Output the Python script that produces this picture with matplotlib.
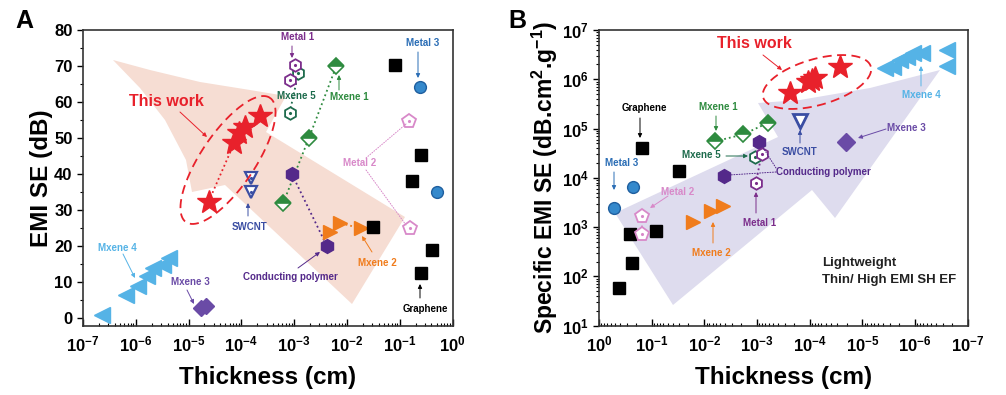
import numpy as np
import matplotlib
matplotlib.use("Agg")
import matplotlib.pyplot as plt
from matplotlib.patches import Polygon
from matplotlib.ticker import LogLocator, MultipleLocator, FixedLocator, NullFormatter

plt.rcParams['font.family'] = ['Liberation Sans', 'DejaVu Sans']
plt.rcParams['font.weight'] = 'bold'
plt.rcParams['axes.labelweight'] = 'bold'
plt.rcParams['mathtext.fontset'] = 'custom'
plt.rcParams['mathtext.rm'] = 'Liberation Sans:bold'
plt.rcParams['mathtext.bf'] = 'Liberation Sans:bold'
plt.rcParams['mathtext.it'] = 'Liberation Sans:bold:italic'
plt.rcParams['mathtext.default'] = 'bf'

# ---------------- data, panel A (thickness cm, EMI SE dB) ----------------
star_a_x = [2.4e-5, 7.3e-5, 9e-5, 1.15e-4, 2.3e-4]
star_a_y = [32.4, 48.6, 51.5, 53.2, 56.2]
mx4_a_x = [2.3e-7, 6.5e-7, 1.1e-6, 1.6e-6, 2.1e-6, 3.3e-6, 4.2e-6]
mx4_a_y = [1.1, 6.5, 9.1, 11.8, 13.9, 14.8, 16.9]
mx3_a_x = [1.7e-5, 2.1e-5]
mx3_a_y = [2.8, 3.4]
swcnt_a_x = [1.5e-4, 1.5e-4]
swcnt_a_y = [38.9, 35.2]
mx1_a_x = [6.2e-4, 1.9e-3, 6.3e-3]
mx1_a_y = [32, 50, 70]
mx5_a_x = [8.2e-4, 1.2e-3]
mx5_a_y = [57, 68]
metal1_a_x = [8.2e-4, 1.05e-3]
metal1_a_y = [66.2, 70.4]
cp_a_x = [9.1e-4, 4.2e-3]
cp_a_y = [40, 20]
mx2_a_x = [4.7e-3, 7.5e-3, 1.85e-2]
mx2_a_y = [24, 26.4, 25]
gr_a_x = [3.1e-2, 8.3e-2, 0.168, 0.25, 0.25, 0.41]
gr_a_y = [25.4, 70.2, 38.1, 45.4, 12.7, 19]
metal3_a_x = [0.238, 0.51]
metal3_a_y = [64.2, 35]
metal2_a_x = [0.153, 0.155]
metal2_a_y = [54.8, 25]

# ---------------- data, panel B (thickness cm, specific EMI SE) ----------------
star_b_x = [2.4e-4, 1.07e-4, 9.2e-5, 8e-5, 2.7e-5]
star_b_y = [5.3e5, 8.9e5, 9.6e5, 1.04e6, 1.8e6]
mx4_b_x = [3.7e-6, 2.6e-6, 1.94e-6, 1.45e-6, 1.09e-6, 7.5e-7, 2.5e-7, 2.5e-7]
mx4_b_y = [1.66e6, 1.79e6, 2.45e6, 2.86e6, 3.35e6, 3.45e6, 3.9e6, 1.86e6]
swcnt_b_x = [1.5e-4]
swcnt_b_y = [1.4e5]
mx3_b_x = [2.06e-5]
mx3_b_y = [5.4e4]
mx1_b_x = [6.3e-3, 1.83e-3, 6.1e-4]
mx1_b_y = [5.5e4, 7.6e4, 1.32e5]
mx5_b_x = [1.1e-3]
mx5_b_y = [2.6e4]
metal1_b_x = [8.2e-4, 1.05e-3]
metal1_b_y = [3e4, 7.9e3]
cp_b_x = [9.1e-4, 4.2e-3]
cp_b_y = [5.4e4, 1.1e4]
mx2_b_x = [1.62e-2, 7.5e-3, 4.5e-3]
mx2_b_y = [1.29e3, 2.1e3, 2.7e3]
gr_b_x = [0.155, 0.030, 0.258, 0.233, 0.417, 0.083]
gr_b_y = [3.96e4, 1.4e4, 715, 190, 59, 845]
metal3_b_x = [0.23, 0.51]
metal3_b_y = [6.4e3, 2.4e3]
metal2_b_x = [0.155, 0.155]
metal2_b_y = [1.68e3, 715]

xticks = [1e-7, 1e-6, 1e-5, 1e-4, 1e-3, 1e-2, 1e-1, 1e0]
xtick_labels = [r'$10^{-7}$', r'$10^{-6}$', r'$10^{-5}$', r'$10^{-4}$',
                r'$10^{-3}$', r'$10^{-2}$', r'$10^{-1}$', r'$10^{0}$']
yticks_b = [1e1, 1e2, 1e3, 1e4, 1e5, 1e6, 1e7]
ytick_labels_b = [r'$10^{1}$', r'$10^{2}$', r'$10^{3}$', r'$10^{4}$',
                  r'$10^{5}$', r'$10^{6}$', r'$10^{7}$']

# colours
RED = '#e8212b'
LBLUE = '#55b3e6'
PURPLE = '#6a4ba6'
NAVY = '#3b4ea3'
GREEN = '#2e8b3f'
DGREEN = '#1d6b4c'
MAGENTA = '#7b2d8b'
DPURPLE = '#54298a'
ORANGE = '#f07c1c'
BLUE = '#3589cc'
PINK = '#d889c9'

W, H = 1006, 395
fig = plt.figure(figsize=(W / 100, H / 100), dpi=100)
axA = fig.add_axes([83 / W, (H - 325.7) / H, 369.5 / W, 295.7 / H])
axB = fig.add_axes([599 / W, (H - 325.7) / H, 368.7 / W, 295.7 / H])


def pix(ax):
    # reference pixel position -> axes fraction
    bb = ax.get_position()
    def f(px, py):
        return ((px - bb.x0 * W) / (bb.width * W),
                ((H - py) - bb.y0 * H) / (bb.height * H))
    return f


def shade(ax, pts, color):
    f = pix(ax)
    poly = Polygon([f(*p) for p in pts], closed=True, transform=ax.transAxes,
                   facecolor=color, edgecolor='none', zorder=0)
    ax.add_patch(poly)


def ring(ax, cx, cy, w, h, ang):
    f = pix(ax)
    t = np.linspace(0, 2 * np.pi, 200)
    ex, ey = w / 2 * np.cos(t), h / 2 * np.sin(t)
    a = np.radians(ang)
    px = cx + ex * np.cos(a) - ey * np.sin(a)
    py = cy - (ex * np.sin(a) + ey * np.cos(a))
    xy = np.array([f(u, v) for u, v in zip(px, py)])
    ax.plot(xy[:, 0], xy[:, 1], transform=ax.transAxes, color=RED, lw=1.3,
            dashes=(5, 3), zorder=6)


def note(ax, text, tp, color, fs=7, a0=None, a1=None, style='-|>', ls='-'):
    f = pix(ax)
    if text:
        ax.text(*f(*tp), text, transform=ax.transAxes, color=color, fontsize=fs,
                ha='center', va='center', fontweight='bold', zorder=8)
    if a0 is not None:
        ax.annotate('', xy=f(*a1), xytext=f(*a0), xycoords='axes fraction',
                    textcoords='axes fraction',
                    arrowprops=dict(arrowstyle=style, color=color, lw=0.7,
                                    ls=ls, mutation_scale=6, shrinkA=0, shrinkB=0),
                    zorder=8)


def dotted(ax, x, y, color):
    ax.plot(x, y, ls=':', color=color, lw=1.3, zorder=3)


def open_marks(ax, x, y, marker, color, ms, mew=1.3):
    ax.plot(x, y, ls='none', marker=marker, ms=ms, mfc='white', mec=color,
            mew=mew, zorder=5)
    ax.plot(x, y, ls='none', marker='.', ms=2.5, color=color, zorder=5)


def style_axes(ax):
    ax.set_xscale('log')
    for s in ax.spines.values():
        s.set_linewidth(1.2)
        s.set_color('#333333')
    ax.xaxis.set_major_locator(FixedLocator(xticks))
    ax.set_xticklabels(xtick_labels)
    ax.xaxis.set_minor_locator(LogLocator(base=10, subs=np.arange(2, 10), numticks=20))
    ax.xaxis.set_minor_formatter(NullFormatter())
    ax.tick_params(axis='x', which='major', direction='in', length=5, width=1,
                   labelsize=12, pad=6, top=False)
    ax.tick_params(axis='x', which='minor', direction='in', length=2.5, width=0.8,
                   top=False)
    ax.tick_params(axis='y', which='major', direction='out', length=4, width=1,
                   labelsize=12, right=False)
    ax.tick_params(axis='y', which='minor', direction='out', length=2.5, width=0.8,
                   right=False)
    ax.set_xlabel('Thickness (cm)', fontsize=17.5, fontweight='bold')
    ax.xaxis.set_label_coords(0.5, -0.135)
    ax.xaxis.label.set_va('top')


# ======================= Panel A =======================
ax = axA
style_axes(ax)
ax.set_xlim(1e-7, 1e0)
ax.set_ylim(-2, 80)
ax.yaxis.set_major_locator(MultipleLocator(10))
ax.yaxis.set_minor_locator(MultipleLocator(5))
ax.set_ylabel('EMI SE (dB)', fontsize=17.5, fontweight='bold')
ax.yaxis.set_label_coords(-0.08, 0.5)

shade(ax, [(113, 60), (150, 70), (200, 82), (250, 90), (286, 96), (266, 132),
           (405, 217), (352, 304), (225, 185), (192, 192), (186, 160),
           (165, 120), (140, 88)], '#f6ddd3')

dotted(ax, star_a_x[:2], star_a_y[:2], RED)
ax.plot(star_a_x, star_a_y, ls='none', marker='*', ms=18, color=RED, mec=RED, zorder=6)
ring(ax, 228, 160, 150, 54, 56)

ax.plot(mx4_a_x, mx4_a_y, ls='none', marker='<', ms=11, color=LBLUE, zorder=5)
ax.plot(mx3_a_x, mx3_a_y, ls='none', marker='D', ms=8, color=PURPLE, zorder=5)
open_marks(ax, swcnt_a_x, swcnt_a_y, 'v', NAVY, 9, 1.6)
ax.plot(mx1_a_x, mx1_a_y, ls=':', lw=1.3, color=GREEN, marker='D', ms=8,
        fillstyle='top', mfc=GREEN, mfcalt='white', mec=GREEN, mew=1.2, zorder=5)
dotted(ax, mx5_a_x, mx5_a_y, DGREEN)
open_marks(ax, mx5_a_x, mx5_a_y, 'h', DGREEN, 9)
open_marks(ax, metal1_a_x, metal1_a_y, 'h', MAGENTA, 9)
dotted(ax, cp_a_x, cp_a_y, DPURPLE)
ax.plot(cp_a_x, cp_a_y, ls='none', marker='h', ms=10, color=DPURPLE, zorder=5)
ax.plot(mx2_a_x, mx2_a_y, ls=':', lw=1.3, color=ORANGE, marker='>', ms=10, zorder=5)
ax.plot(gr_a_x, gr_a_y, ls='none', marker='s', ms=8, color='black', zorder=5)
ax.plot(metal3_a_x, metal3_a_y, ls='none', marker='o', ms=8.5, color=BLUE,
        mec='#1f5f9f', zorder=5)
open_marks(ax, metal2_a_x, metal2_a_y, 'p', PINK, 10)

note(ax, 'This work', (166, 101), RED, 11.5, (180, 112), (207, 137))
note(ax, 'Metal 1', (297.7, 37.3), MAGENTA, 7, (292, 46), (292, 58))
note(ax, 'Metal 3', (422.7, 42.7), '#2a6db5', 7, (418, 52), (418, 78))
note(ax, 'Mxene 5', (296, 96), DGREEN, 7)
note(ax, 'Mxene 1', (349, 96.7), GREEN, 7, (339, 90), (339, 75))
note(ax, 'Metal 2', (360, 163.3), PINK, 7, (366, 158), (406, 124), style='-', ls=':')
note(ax, '', None, PINK, 7, (366, 170), (406, 225), style='-', ls=':')
note(ax, 'SWCNT', (250, 226.7), NAVY, 7, (248, 216), (248, 203))
note(ax, 'Conducting polymer', (290, 276.7), DPURPLE, 7, (298, 268), (320, 252))
note(ax, 'Mxene 2', (377, 263.3), ORANGE, 7, (372, 252), (362, 236))
note(ax, 'Graphene', (425, 309.3), 'black', 7, (420, 298), (420, 284))
note(ax, 'Mxene 4', (117.3, 248.3), LBLUE, 7, (123, 254), (135, 278))
note(ax, 'Mxene 3', (190, 281.7), PURPLE, 7, (187, 290), (194, 304))

# ======================= Panel B =======================
ax = axB
style_axes(ax)
ax.set_xlim(1e0, 1e-7)
ax.set_yscale('log')
ax.set_ylim(1e1, 1e7)
ax.yaxis.set_major_locator(FixedLocator(yticks_b))
ax.set_yticklabels(ytick_labels_b)
ax.yaxis.set_minor_locator(LogLocator(base=10, subs=np.arange(2, 10), numticks=20))
ax.yaxis.set_minor_formatter(NullFormatter())
ax.tick_params(axis='y', which='minor', direction='out', length=2.5, width=0.8)
ax.set_ylabel(r'Specific EMI SE (dB.cm$^{2}$.g$^{-1}$)', fontsize=16.5,
              fontweight='bold')
ax.yaxis.set_label_coords(-0.105, 0.5)

shade(ax, [(615, 213), (778, 137), (758, 103), (800, 100), (870, 88), (940, 70),
           (835, 218), (812, 190), (673, 305)], '#dedcee')

ax.plot(star_b_x, star_b_y, ls='none', marker='*', ms=18, color=RED, mec=RED, zorder=6)
ring(ax, 817, 82, 112, 46, 16)

ax.plot(mx4_b_x, mx4_b_y, ls='none', marker='<', ms=11, color=LBLUE, zorder=5)
ax.plot(mx3_b_x, mx3_b_y, ls='none', marker='D', ms=9, color=PURPLE, zorder=5)
ax.plot(swcnt_b_x, swcnt_b_y, ls='none', marker='v', ms=10, mfc='white', mec=NAVY,
        mew=2, zorder=5)
ax.plot(mx1_b_x, mx1_b_y, ls=':', lw=1.3, color=GREEN, marker='D', ms=8,
        fillstyle='top', mfc=GREEN, mfcalt='white', mec=GREEN, mew=1.2, zorder=5)
open_marks(ax, mx5_b_x, mx5_b_y, 'h', DGREEN, 9)
dotted(ax, metal1_b_x, metal1_b_y, MAGENTA)
open_marks(ax, metal1_b_x, metal1_b_y, 'h', MAGENTA, 9)
ax.plot(cp_b_x, cp_b_y, ls='none', marker='h', ms=10, color=DPURPLE, zorder=4)
ax.plot(mx2_b_x, mx2_b_y, ls='none', marker='>', ms=10, color=ORANGE, zorder=5)
ax.plot(gr_b_x, gr_b_y, ls='none', marker='s', ms=8, color='black', zorder=5)
ax.plot(metal3_b_x, metal3_b_y, ls='none', marker='o', ms=8.5, color=BLUE,
        mec='#1f5f9f', zorder=5)
dotted(ax, metal2_b_x, metal2_b_y, PINK)
open_marks(ax, metal2_b_x, metal2_b_y, 'p', PINK, 10)

note(ax, 'This work', (754, 44), RED, 11.5, (763, 55), (782, 70))
note(ax, 'Graphene', (644, 107.7), 'black', 7, (640, 118), (640, 138))
note(ax, 'Mxene 1', (718, 106.7), GREEN, 7, (716, 116), (716, 131))
note(ax, 'Mxene 5', (701.7, 155), DGREEN, 7, (726, 156), (748, 156))
note(ax, 'Metal 3', (621.7, 163.3), '#2a6db5', 7, (614, 172), (614, 190))
note(ax, 'Metal 2', (678, 191.7), PINK, 7, (668, 196), (650, 208))
note(ax, 'Mxene 2', (711.7, 252.7), ORANGE, 7, (713, 243), (713, 222))
note(ax, 'Metal 1', (759.3, 222.7), MAGENTA, 7, (756, 213), (756, 192))
note(ax, 'SWCNT', (800, 151.7), NAVY, 7, (800, 143), (800, 130))
note(ax, 'Conducting polymer', (823, 172), DPURPLE, 7, (776, 172), (729, 175),
     style='-', ls=':')
note(ax, '', None, DPURPLE, 7, (776, 168), (762, 146), style='-', ls=':')
note(ax, 'Mxene 3', (906.7, 128.3), PURPLE, 7, (886, 129), (858, 138))
note(ax, 'Mxene 4', (921.7, 95), LBLUE, 7, (921, 86), (921, 66))

f = pix(ax)
ax.text(*f(822, 263), 'Lightweight', transform=ax.transAxes, fontsize=9.5,
        ha='left', va='center', fontweight='bold', color='#222222')
ax.text(*f(822, 280), 'Thin/ High EMI SH EF', transform=ax.transAxes, fontsize=9.5,
        ha='left', va='center', fontweight='bold', color='#222222')

fig.text(24 / W, 1 - 21 / H, 'A', fontsize=18, fontweight='bold', ha='center', va='center')
fig.text(517 / W, 1 - 21 / H, 'B', fontsize=18, fontweight='bold', ha='center', va='center')

fig.savefig('out.png', dpi=100)
